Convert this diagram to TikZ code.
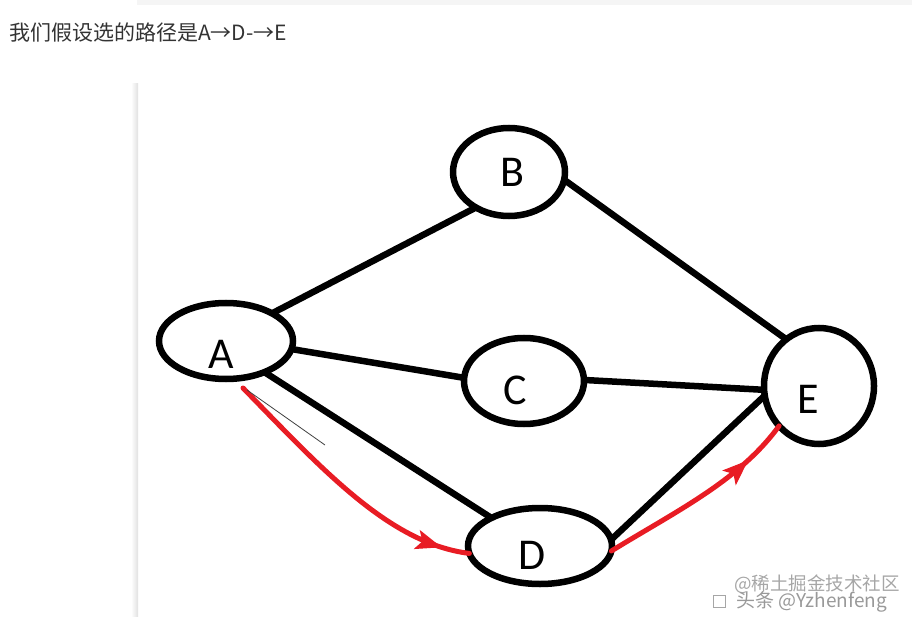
\documentclass[tikz,border=0pt]{standalone}
\usepackage{fontspec}
\setmainfont{Carlito}
\newfontfamily\cjk{Noto Sans CJK SC}
\usetikzlibrary{shapes.geometric,decorations.markings,arrows.meta}
\definecolor{penred}{RGB}{232,28,36}
\tikzset{
  vertex/.style={draw,ellipse,line width=6.5pt,inner sep=0pt,outer sep=0pt},
  letter/.style={font=\fontsize{44}{44}\selectfont},
  link/.style={line width=6.5pt},
  redpath/.style={draw=penred,line width=5pt,line cap=round,postaction={decorate},
    decoration={markings,mark=at position #1 with {\arrow[penred,line width=1pt]{Stealth[length=26pt,width=20pt,inset=6pt]}}}},
}
\begin{document}
\begin{tikzpicture}[x=1pt,y=-1pt]
\useasboundingbox (0,0) rectangle (912,617);
\fill[black!4] (137,0) rectangle (912,5);
\shade[left color=white,right color=black!12] (131,84) rectangle (138,617);
\node[anchor=west,font=\cjk\fontsize{21}{21}\selectfont,text=black!80,inner sep=0pt] (title) at (9,33) {我们假设选的路径是A→D-→E};
\foreach \n/\x/\y/\w/\h/\lx/\ly in {A/226/341/134/76/221/354,B/509/172/112/88/512/172,C/524/381/120/86/515/390,D/540/546/144/76/532/555,E/819/386/110/116/808/399} {
\node[vertex,minimum width=\w pt,minimum height=\h pt] (\n) at (\x,\y) {};
\node[letter] (l\n) at (\lx,\ly) {\n};
}
\foreach \s/\t in {A.31/B.227,A.-7/C.177,A.-39/D.150,B.-8/E.125,C.1/E.-176,D.5/E.190}
\draw[link] (\s) -- (\t);
% chosen path
\coordinate (r1) at (243,388);
\draw[redpath=0.9] (r1) .. controls +(80,82) and +(-80,-10) .. (D.186);
\draw[redpath=0.78] (D.-4) .. controls +(65,-40) and +(-40,55) .. (E.225);
\draw[line width=0.8pt,black!75] (247,390) -- (325,445);
% watermark
\node[anchor=west,font=\cjk\fontsize{18.5}{18.5}\selectfont,text=black!35,inner sep=0pt] (wm1) at (734,584) {@稀土掘金技术社区};
\node[anchor=west,font=\cjk\fontsize{19}{19}\selectfont,text=black!40,inner sep=0pt] (wm2) at (736,602) {头条 @Yzhenfeng};
\node[draw=black!35,minimum size=12pt,inner sep=0pt] (wmicon) at (719,601) {};
\end{tikzpicture}
\end{document}
